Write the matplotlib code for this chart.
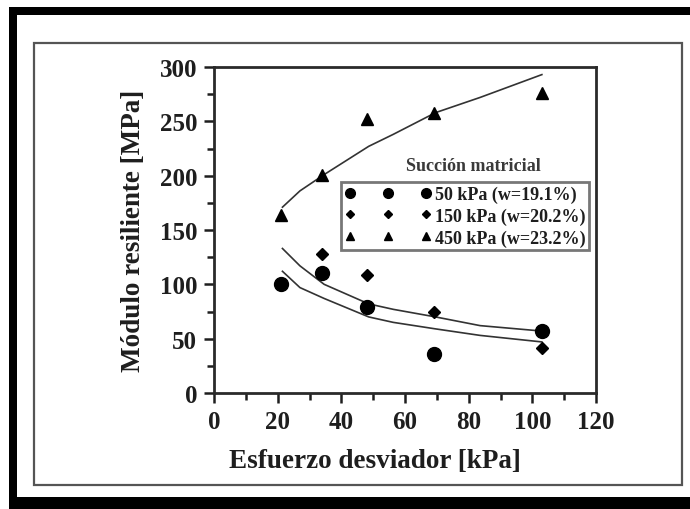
import numpy as np
import matplotlib
matplotlib.use("Agg")
from matplotlib import pyplot as plt
from matplotlib.patches import Rectangle

# measured points (Esfuerzo desviador [kPa], Modulo resiliente [MPa])
x_pts = [21, 34, 48, 69, 103]
mr_50 = [100, 110, 79, 36, 57]
x_150 = [34, 48, 69, 103]
mr_150 = [128, 109, 75, 41]
mr_450 = [164, 201, 252, 258, 276]

# fitted curves
fit_x = [21.5, 27, 34.6, 48.6, 56.3, 69.6, 83.6, 103]
fit_450 = [171, 186, 201, 227, 238, 258, 272, 293]
fit_up = [133, 117, 100, 82, 77, 70, 62, 57]
fit_low = [112, 97, 87, 70, 65, 59, 53, 47]

labels = ["50 kPa (w=19.1%)", "150 kPa (w=20.2%)", "450 kPa (w=23.2%)"]

plt.rcParams['font.family'] = ['Liberation Serif', 'DejaVu Serif']
plt.rcParams['font.weight'] = 'bold'
ink = '#1e1e1e'

fig = plt.figure(figsize=(6.9, 5.1), dpi=100)
W, H = 690., 510.

# frame decoration: thick black border (top/left/bottom) and thin gray box
def fbox(x0, y0, x1, y1, **kw):
    fig.patches.append(Rectangle((x0/W, 1-y1/H), (x1-x0)/W, (y1-y0)/H,
                                 transform=fig.transFigure, **kw))
fbox(9, 8, 690, 16, facecolor='black', edgecolor='none')
fbox(9, 8, 17, 510, facecolor='black', edgecolor='none')
fbox(9, 498, 690, 510, facecolor='black', edgecolor='none')
fbox(34, 44, 682, 486, facecolor='none', edgecolor='#555555', linewidth=1.6)

ax = fig.add_axes([214/W, 1-394/H, 382/W, 326/H])

ax.plot(fit_x, fit_450, '-', color='#333333', lw=1.2)
ax.plot(fit_x, fit_up, '-', color='#333333', lw=1.2)
ax.plot(fit_x, fit_low, '-', color='#333333', lw=1.2)

ax.plot(x_pts, mr_50, 'o', color='black', ms=10, label=labels[0])
ax.plot(x_150, mr_150, 'D', color='black', ms=6.5, label=labels[1])
ax.plot(x_pts, mr_450, '^', color='black', ms=9, label=labels[2])

ax.set_xlim(0, 120)
ax.set_ylim(0, 300)
ax.set_xticks(np.arange(0, 121, 20))
ax.set_yticks(np.arange(0, 301, 50))
ax.set_xticks(np.arange(10, 120, 20), minor=True)
ax.set_yticks(np.arange(25, 300, 50), minor=True)
ax.tick_params(which='major', direction='out', length=7, width=1.8,
               labelsize=18, colors=ink, pad=5, top=False, right=False)
ax.tick_params(which='minor', direction='out', length=5, width=1.8,
               colors=ink, top=False, right=False)
for lab in ax.get_xticklabels() + ax.get_yticklabels():
    lab.set_fontweight('bold')
for s in ax.spines.values():
    s.set_linewidth(2)
    s.set_color('#2a2a2a')

ax.set_xlabel('Esfuerzo desviador [kPa]', fontsize=19.5, fontweight='bold',
              color=ink)
ax.xaxis.set_label_coords(0.42, -0.17)
ax.set_ylabel('Módulo resiliente [MPa]', fontsize=19.5, fontweight='bold',
              color=ink, labelpad=10)

ax.text(0.68, 0.699, 'Succión matricial', transform=ax.transAxes,
        ha='center', va='center', fontsize=13, fontweight='bold',
        color='#3a3a3a')
leg = ax.legend(loc='upper right', bbox_to_anchor=(0.982, 0.647),
                numpoints=3, handlelength=4.8, handletextpad=0.2,
                markerscale=0.7, fancybox=False, borderpad=0.2,
                labelspacing=0.25, borderaxespad=0,
                prop={'family': 'Liberation Serif', 'weight': 'bold', 'size': 13})
leg.get_frame().set_edgecolor('#555555')
leg.get_frame().set_linewidth(2)
for t in leg.get_texts():
    t.set_color(ink)

fig.savefig('out.png', dpi=100, facecolor='white')
